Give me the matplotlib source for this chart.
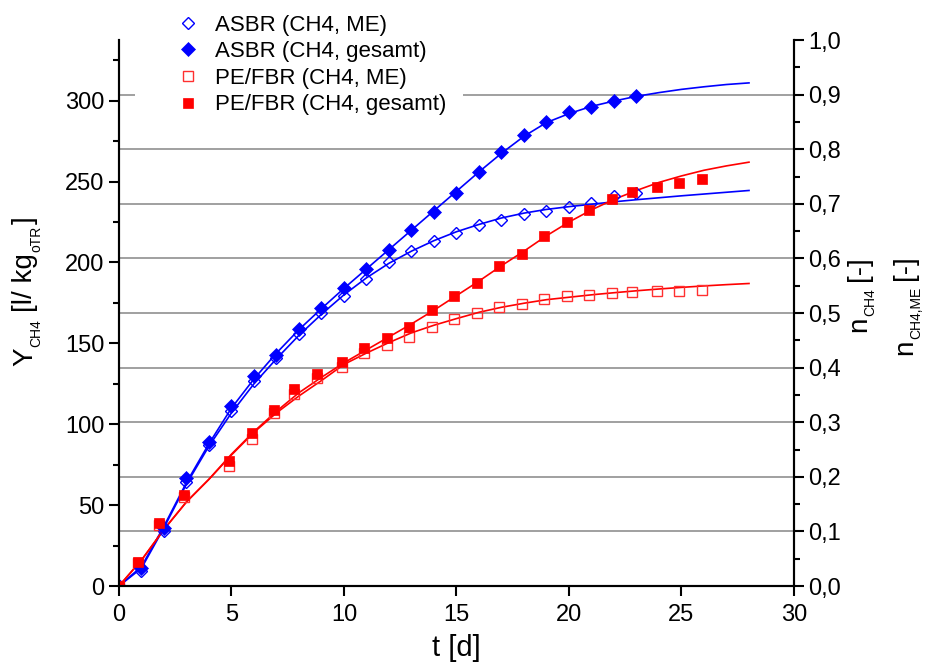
import matplotlib
matplotlib.use("Agg")
import matplotlib.pyplot as plt
from matplotlib.ticker import MultipleLocator, FuncFormatter
from matplotlib.transforms import IdentityTransform
from matplotlib.patches import Rectangle

plt.rcParams['font.family'] = ['Liberation Sans', 'DejaVu Sans']

# ---- data ----
t_asbr = [0, 1, 2, 3, 4, 5, 6, 7, 8, 9, 10, 11, 12, 13, 14, 15, 16, 17, 18, 19, 20, 21, 22, 23]
asbr_me = [0, 9, 34, 64, 87, 108, 127, 141, 156, 169, 179, 190, 200, 207, 213, 218, 223, 226.5, 230, 232, 234, 237, 241, 243]
asbr_ges = [0, 11, 36, 67, 89, 111, 130, 143, 159, 172, 184, 196, 208, 220, 231.5, 243, 256, 268, 279, 287, 293, 296, 300, 303]

t_pe = [0, 0.85, 1.8, 2.9, 4.9, 5.9, 6.9, 7.8, 8.8, 9.9, 10.9, 11.9, 12.9, 13.9, 14.9, 15.9,
        16.9, 17.9, 18.9, 19.9, 20.9, 21.9, 22.8, 23.9, 24.9, 25.9]
pe_me = [0, 14, 38, 55, 74, 91, 107, 118.5, 128.5, 135.6, 143.9, 149, 154.2, 160.4, 165, 169,
         172.4, 174.4, 177.3, 179, 180, 181, 181.8, 182.4, 182.6, 183]
pe_ges = [0, 15, 39, 56, 77, 94.4, 109, 121.6, 131, 138.7, 147, 153.6, 160.4, 170.7, 179.3, 187.6,
          197.9, 205, 216.5, 225.3, 232.5, 239.3, 243.5, 246.6, 249.4, 251.5]

# fitted curves (at each day)
t_fit = list(range(0, 29))
fit_asbr_me = [0, 11, 36, 63, 86.5, 107, 125, 140.5, 155, 168, 180, 190.5, 199.5, 207, 213.5, 219,
               223.5, 227.5, 230.5, 232.8, 234.5, 236, 237.5, 238.8, 240, 241.2, 242.3, 243.4, 244.5]
fit_asbr_ges = [0, 12, 37, 64, 88, 110, 128, 144, 158.5, 171.5, 184, 196, 208, 220, 232, 244,
                256, 267.5, 278, 286.5, 292, 296.5, 299.8, 302.7, 305, 307, 308.6, 310, 311]
fit_pe_me = [0, 16, 35, 52, 66, 81, 95, 107, 117.5, 127, 137, 144, 150.5, 156.5, 161.2, 165.3,
             169.2, 172.3, 174.8, 177, 178.5, 180, 181.3, 182.5, 183.6, 184.6, 185.5, 186.3, 187]
fit_pe_ges = [0, 16, 35, 52, 66, 81.5, 95.5, 108, 119.5, 129, 138, 146, 154, 162, 170.5, 179.5,
              188.5, 198, 207, 216.5, 225, 232.5, 239, 244.5, 249.5, 253.5, 257, 259.7, 262]

labels = ['ASBR (CH4, ME)', 'ASBR (CH4, gesamt)', 'PE/FBR (CH4, ME)', 'PE/FBR (CH4, gesamt)']
blue = '#0000FF'
red = '#FF0000'

fig = plt.figure(figsize=(9.28, 6.66), dpi=100)
ax = fig.add_axes([0.1282, 0.1201, 0.8556 - 0.1282, 0.9399 - 0.1201])
ymax = 337.5
ax.set_xlim(0, 30)
ax.set_ylim(0, ymax)

ax2 = ax.twinx()
ax2.set_ylim(0, 1.0)

# grid lines from the right axis
for g in [0.1, 0.2, 0.3, 0.4, 0.5, 0.6, 0.7, 0.8, 0.9]:
    ax.axhline(g * ymax, color='#A0A0A0', lw=1.4, zorder=0)

# white legend background
ax.add_patch(Rectangle((0.024, 0.86), 0.485, 0.25, transform=ax.transAxes, facecolor='white',
                       edgecolor='none', clip_on=False, zorder=1))

# fitted curves
ax.plot(t_fit, fit_asbr_ges, color=blue, lw=1.2, zorder=2)
ax.plot(t_fit, fit_asbr_me, color=blue, lw=1.2, zorder=2)
ax.plot(t_fit, fit_pe_ges, color=red, lw=1.2, zorder=2)
ax.plot(t_fit, fit_pe_me, color=red, lw=1.2, zorder=2)

# data points
h1, = ax.plot(t_asbr, asbr_me, ls='none', marker='D', ms=6.5, mfc='none', mec=blue, mew=1.0,
              zorder=3, label=labels[0])
h3, = ax.plot(t_pe, pe_me, ls='none', marker='s', ms=7.5, mfc='none', mec='#FF3030', mew=1.0,
              zorder=3, label=labels[2])
h2, = ax.plot(t_asbr, asbr_ges, ls='none', marker='D', ms=7.0, mfc=blue, mec=blue, mew=0.5,
              zorder=4, label=labels[1])
h4, = ax.plot(t_pe, pe_ges, ls='none', marker='s', ms=7.7, mfc=red, mec=red, mew=0.5,
              zorder=4, label=labels[3])

# spines and ticks
for a in (ax, ax2):
    a.spines['top'].set_visible(False)
    for s in ('left', 'right', 'bottom'):
        a.spines[s].set_linewidth(1.5)
ax.xaxis.set_major_locator(MultipleLocator(5))
ax.yaxis.set_major_locator(MultipleLocator(50))
ax.yaxis.set_minor_locator(MultipleLocator(25))
ax2.yaxis.set_major_locator(MultipleLocator(0.1))
ax2.yaxis.set_minor_locator(MultipleLocator(0.05))
ax2.yaxis.set_major_formatter(FuncFormatter(lambda v, p: ('%.1f' % v).replace('.', ',')))

ax.tick_params(axis='both', which='major', direction='out', length=7, width=1.5, labelsize=17)
ax.tick_params(axis='y', which='minor', direction='out', length=4, width=1.5)
ax.tick_params(axis='x', pad=6)
ax2.tick_params(axis='y', which='major', direction='out', length=7, width=1.5, labelsize=17)
ax2.tick_params(axis='y', which='minor', direction='out', length=4, width=1.5)

ax.set_xlabel('t [d]', fontsize=21, labelpad=6)

leg = ax.legend(handles=[h1, h2, h3, h4], loc='upper left', bbox_to_anchor=(0.06, 1.075),
                fontsize=16, frameon=False,
                handletextpad=0.6, labelspacing=0.25, borderpad=0.2, handlelength=1.2)
leg.set_zorder(10)

# rotated labels with small subscripts, built piece by piece (pixel coords)
H = 666
renderer = fig.canvas.get_renderer()


def vlabel(x_base, y_center_top, pieces):
    objs, lens = [], []
    for s, fs, dx, gap in pieces:
        t = fig.text(0, 0, s, fontsize=fs, rotation=90, rotation_mode='anchor',
                     ha='left', va='baseline', transform=IdentityTransform())
        lens.append(t.get_window_extent(renderer).height)
        objs.append(t)
    total = sum(lens) + sum(p[3] for p in pieces)
    y = (H - y_center_top) - total / 2.0
    for (s, fs, dx, gap), t, L in zip(pieces, objs, lens):
        y += gap
        t.set_position((x_base + dx, y))
        y += L


MAIN, SUB, DROP = 20, 10, 8
vlabel(32, 291, [('Y', MAIN, 0, 0), ('CH4', SUB, DROP, 1), ('[l/ kg', MAIN, 0, 7),
                 ('oTR', SUB, DROP, 1), (']', MAIN, 0, 2)])
vlabel(866, 294, [('n', MAIN, 0, 0), ('CH4', SUB, DROP, 1), ('[-]', MAIN, 0, 7)])
vlabel(912, 305, [('n', MAIN, 0, 0), ('CH4,ME', SUB, DROP, 1), ('[-]', MAIN, 0, 7)])

fig.savefig('out.png', dpi=100)
